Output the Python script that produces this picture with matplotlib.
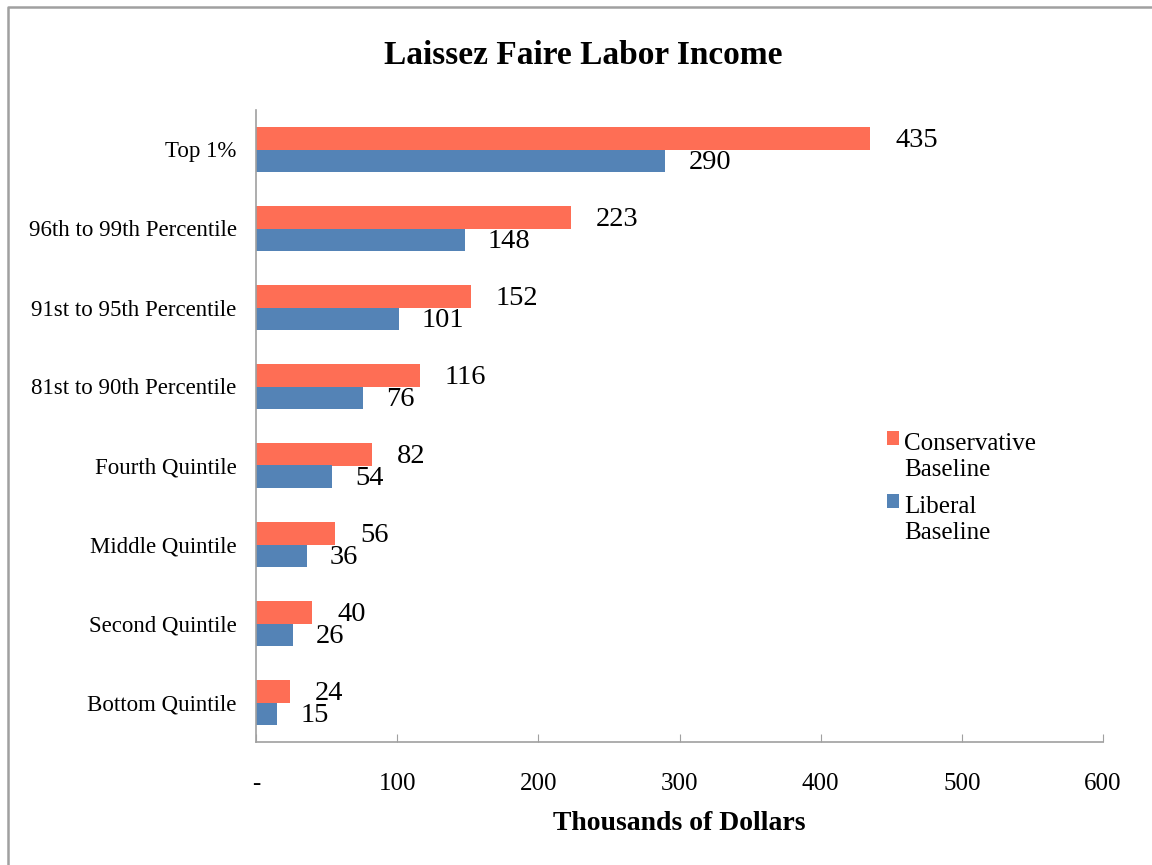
import matplotlib
matplotlib.use('Agg')
import matplotlib.pyplot as plt
from matplotlib.lines import Line2D
from matplotlib.patches import Rectangle
from matplotlib.container import BarContainer
from matplotlib.legend_handler import HandlerPatch
import numpy as np

# categories, top to bottom
categories = ['Top 1%', '96th to 99th Percentile', '91st to 95th Percentile',
              '81st to 90th Percentile', 'Fourth Quintile', 'Middle Quintile',
              'Second Quintile', 'Bottom Quintile']
conservative = [435, 223, 152, 116, 82, 56, 40, 24]
liberal = [290, 148, 101, 76, 54, 36, 26, 15]
x_ticks = [0, 100, 200, 300, 400, 500, 600]
x_tick_labels = ['-', '100', '200', '300', '400', '500', '600']

plt.rcParams['font.family'] = ['Liberation Serif', 'DejaVu Serif']

fig = plt.figure(figsize=(11.52, 8.65), dpi=100)
ax = fig.add_axes([256/1152, 1 - 742/865, (1103 - 256)/1152, (742 - 110)/865])

red = '#FE6E55'
blue = '#5483B6'
h = 0.28
y = np.arange(len(categories))
ax.barh(y - h/2, conservative, height=h, color=red, label='Conservative\nBaseline')
ax.barh(y + h/2, liberal, height=h, color=blue, label='Liberal\nBaseline')

# data labels
for yi, v in zip(y, conservative):
    ax.annotate(str(v), (v, yi - h/2), xytext=(18, -1.5), textcoords='offset points',
                va='center', ha='left', fontsize=20.5)
for yi, v in zip(y, liberal):
    ax.annotate(str(v), (v, yi + h/2), xytext=(16.5, -1.5), textcoords='offset points',
                va='center', ha='left', fontsize=20.5)

ax.set_xlim(0, 600)
ax.set_ylim(len(categories) - 0.5, -0.5)
ax.set_yticks(y)
ax.set_yticklabels(categories, fontsize=16.5)
ax.set_xticks(x_ticks)
ax.set_xticklabels(x_tick_labels, fontsize=18)
ax.tick_params(axis='y', length=0, pad=14)
ax.tick_params(axis='x', direction='in', length=6, color='#A0A0A0', pad=22)

for s in ['top', 'right']:
    ax.spines[s].set_visible(False)
for s in ['left', 'bottom']:
    ax.spines[s].set_color('#A0A0A0')
    ax.spines[s].set_linewidth(1.2)

ax.set_xlabel('Thousands of Dollars', fontsize=20, fontweight='bold', labelpad=12)
fig.text(583/1152, 1 - 55/865, 'Laissez Faire Labor Income', ha='center', va='center',
         fontsize=24, fontweight='bold')


# legend squares sit next to the first line of each two-line label
def top_square(legend, orig_handle, xdescent, ydescent, width, height, fontsize):
    return Rectangle((-xdescent, -ydescent + 13.3), width, height)


def copy_color(legend_handle, orig_handle):
    legend_handle.update_from(orig_handle[0])


ax.legend(loc='upper left', bbox_to_anchor=(864/1152, 1 - 411/865),
          bbox_transform=fig.transFigure, frameon=False, fontsize=18,
          handlelength=0.48, handleheight=0.48, handletextpad=0.22, labelspacing=0.62,
          handler_map={BarContainer: HandlerPatch(patch_func=top_square,
                                                  update_func=copy_color)})

# outer chart border (left and top edges)
fig.lines.append(Line2D([7.5/1152, 7.5/1152, 1], [0, 1 - 7/865, 1 - 7/865],
                        transform=fig.transFigure, color='#A0A0A0', linewidth=1.8))

fig.savefig('out.png', dpi=100)
